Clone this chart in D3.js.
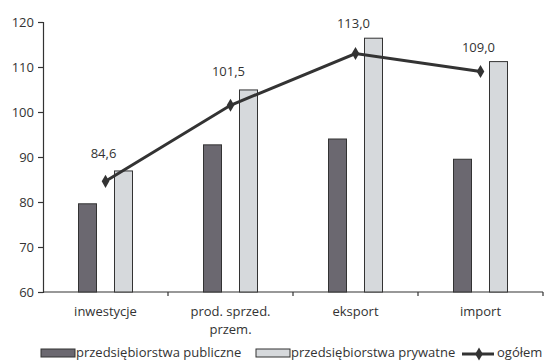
<!DOCTYPE html>
<html>
<head>
<meta charset="utf-8">
<script src="https://cdn.jsdelivr.net/npm/d3@7"></script>
<style>
  html, body { margin: 0; padding: 0; background: #fff; }
  svg text { font-family: "Open Sans", "DejaVu Sans", sans-serif; fill: #333; }
</style>
</head>
<body>
<svg id="chart" width="545" height="361"></svg>
<script>
// Categories (second line of a label after "\n")
const categories = ["inwestycje", "prod. sprzed.\nprzem.", "eksport", "import"];
// Indices for public and private enterprises, plus the overall index
const publicValues  = [79.6, 92.7, 94.0, 89.5];
const privateValues = [86.9, 104.9, 116.4, 111.2];
const totalValues   = [84.6, 101.5, 113.0, 109.0];
const totalLabels   = ["84,6", "101,5", "113,0", "109,0"];
const yTicks = [60, 70, 80, 90, 100, 110, 120];
const legendNames = ["przedsiębiorstwa publiczne", "przedsiębiorstwa prywatne", "ogółem"];

const dark = "#6b6870", light = "#d6d9dc", ink = "#333333";
const svg = d3.select("#chart");
const plotLeft = 43, plotRight = 543, plotTop = 22, plotBottom = 292;

const x = d3.scaleBand().domain(categories).range([plotLeft, plotRight]).padding(0);
const y = d3.scaleLinear().domain([60, 120]).range([plotBottom, plotTop]);

// y axis
const yAxis = svg.append("g").attr("transform", `translate(${plotLeft},0)`)
  .call(d3.axisLeft(y).tickValues(yTicks).tickSize(5).tickPadding(4));
yAxis.select(".domain").attr("stroke", ink).attr("stroke-width", 1.2);
yAxis.selectAll(".tick line").attr("stroke", ink).attr("stroke-width", 1.2);
yAxis.selectAll(".tick text").attr("font-size", 13).attr("fill", ink)
  .style("font-family", "'Open Sans', sans-serif");

// x axis: baseline with ticks at category boundaries
const xg = svg.append("g");
xg.append("line").attr("x1", plotLeft).attr("x2", plotRight).attr("y1", plotBottom).attr("y2", plotBottom)
  .attr("stroke", ink).attr("stroke-width", 1.2);
xg.selectAll("line.b").data(categories).join("line").attr("class", "b")
  .attr("x1", d => x(d) + x.bandwidth()).attr("x2", d => x(d) + x.bandwidth())
  .attr("y1", plotBottom).attr("y2", plotBottom + 4).attr("stroke", ink).attr("stroke-width", 1.2);
xg.selectAll("text").data(categories).join("text")
  .attr("text-anchor", "middle").attr("font-size", 13)
  .attr("transform", d => `translate(${x(d) + x.bandwidth() / 2},${plotBottom + 24})`)
  .each(function (d) {
    d.split("\n").forEach((part, i) => {
      d3.select(this).append("tspan").attr("x", 0).attr("dy", i === 0 ? 0 : 18).text(part);
    });
  });

// Bars
const barW = 18, off = 9;
const cx = c => x(c) + x.bandwidth() / 2;
svg.append("g").selectAll("rect").data(categories).join("rect")
  .attr("x", d => cx(d) - off - barW).attr("width", barW)
  .attr("y", (d, i) => y(publicValues[i])).attr("height", (d, i) => plotBottom - y(publicValues[i]))
  .attr("fill", dark).attr("stroke", ink).attr("stroke-width", 1);
svg.append("g").selectAll("rect").data(categories).join("rect")
  .attr("x", d => cx(d) + off).attr("width", barW)
  .attr("y", (d, i) => y(privateValues[i])).attr("height", (d, i) => plotBottom - y(privateValues[i]))
  .attr("fill", light).attr("stroke", ink).attr("stroke-width", 1);

// Overall index line with diamond markers
const line = d3.line().x((d, i) => cx(categories[i])).y(d => y(d));
svg.append("path").datum(totalValues).attr("d", line)
  .attr("fill", "none").attr("stroke", ink).attr("stroke-width", 3);
const diamond = d3.symbol().type(d3.symbolDiamond).size(50);
svg.append("g").selectAll("path").data(totalValues).join("path")
  .attr("d", diamond)
  .attr("transform", (d, i) => `translate(${cx(categories[i])},${y(d)})`)
  .attr("fill", ink);
const labelDy = [-23, -29, -26, -20];
svg.append("g").selectAll("text").data(totalValues).join("text")
  .attr("x", (d, i) => cx(categories[i]) - 2)
  .attr("y", (d, i) => y(d) + labelDy[i])
  .attr("text-anchor", "middle").attr("font-size", 13)
  .text((d, i) => totalLabels[i]);

// Legend
const lg = svg.append("g");
const ly = 349;
lg.append("rect").attr("x", 41).attr("y", ly).attr("width", 34).attr("height", 8)
  .attr("fill", dark).attr("stroke", ink);
lg.append("text").attr("x", 76).attr("y", ly + 8).attr("font-size", 13).text(legendNames[0]);
lg.append("rect").attr("x", 256).attr("y", ly).attr("width", 34).attr("height", 8)
  .attr("fill", light).attr("stroke", ink);
lg.append("text").attr("x", 291).attr("y", ly + 8).attr("font-size", 13).text(legendNames[1]);
lg.append("line").attr("x1", 462).attr("x2", 494).attr("y1", ly + 5).attr("y2", ly + 5)
  .attr("stroke", ink).attr("stroke-width", 3);
lg.append("path").attr("d", diamond).attr("transform", `translate(479,${ly + 5})`).attr("fill", ink);
lg.append("text").attr("x", 497).attr("y", ly + 8).attr("font-size", 13).text(legendNames[2]);
</script>
</body>
</html>
